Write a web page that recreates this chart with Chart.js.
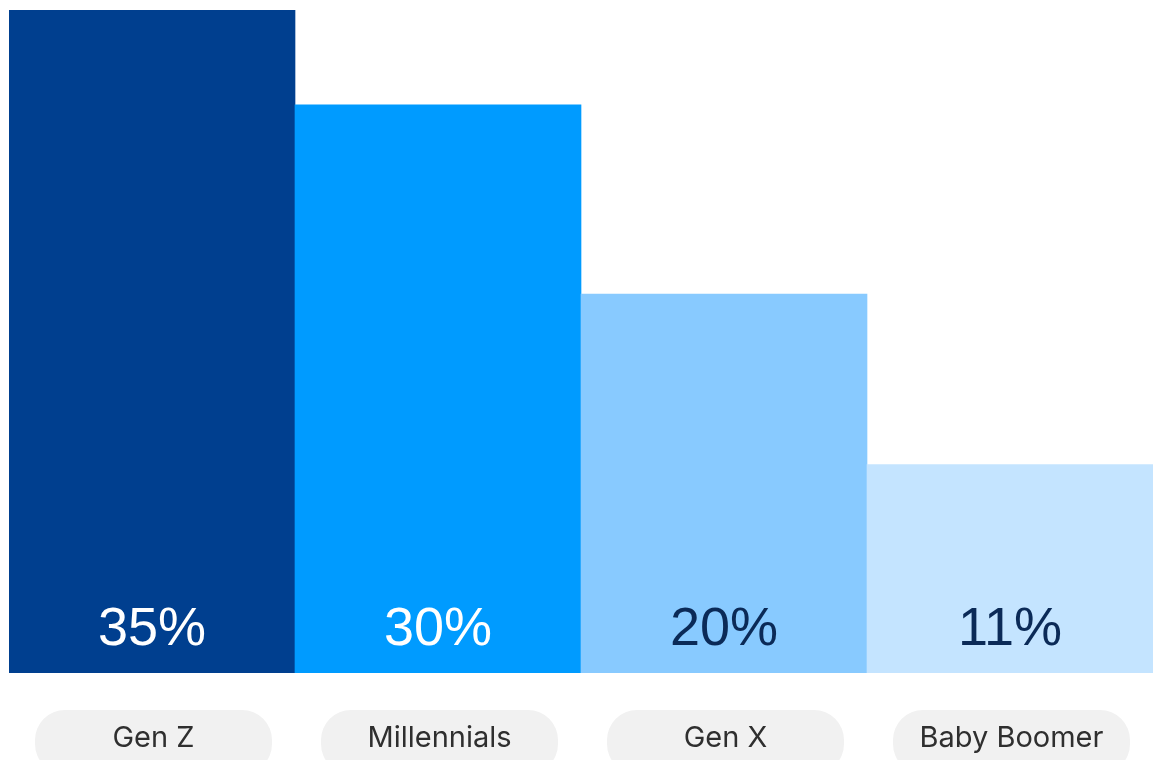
<!DOCTYPE html>
<html>
<head>
<meta charset="utf-8">
<script src="https://cdn.jsdelivr.net/npm/chart.js@4/dist/chart.umd.min.js"></script>
<style>
  html, body { margin: 0; padding: 0; background: #ffffff; }
  #wrap { width: 1160px; height: 760px; position: relative; }
</style>
</head>
<body>
<div id="wrap"><canvas id="c" width="1160" height="760"></canvas></div>
<script>
// Share of respondents by generation (%)
const generations = ['Gen Z', 'Millennials', 'Gen X', 'Baby Boomer'];
const shares = [35, 30, 20, 11];
const barColors = ['#003f8f', '#009bff', '#88caff', '#c4e4ff'];
const valueColors = ['#ffffff', '#ffffff', '#0b2a57', '#0b2a57'];

const VALUE_FONT = '"Liberation Sans", Arial, sans-serif';
const CHIP_FONT = 'Inter, "Liberation Sans", Arial, sans-serif';

// Draws the value inside each bar and the rounded category chips underneath
const labelPlugin = {
  id: 'generationLabels',
  afterDatasetsDraw(chart) {
    const ctx = chart.ctx;
    const meta = chart.getDatasetMeta(0);
    const yScale = chart.scales.y;
    const base = yScale.getPixelForValue(0);
    ctx.save();
    ctx.textAlign = 'center';
    ctx.textBaseline = 'middle';
    meta.data.forEach((bar, i) => {
      // value label
      ctx.fillStyle = valueColors[i];
      ctx.font = '54px ' + VALUE_FONT;
      ctx.fillText(shares[i] + '%', bar.x, base - 43);

      // category chip
      const w = 237, h = 64, r = 30;
      const cx = bar.x + 1.5;
      const top = base + 37;
      ctx.fillStyle = '#f1f1f1';
      ctx.beginPath();
      ctx.roundRect(cx - w / 2, top, w, h, r);
      ctx.fill();

      ctx.fillStyle = '#2f2f2f';
      ctx.font = '29px ' + CHIP_FONT;
      ctx.fillText(generations[i], cx, top + 28);
    });
    ctx.restore();
  }
};

new Chart(document.getElementById('c'), {
  type: 'bar',
  data: {
    labels: generations,
    datasets: [{
      data: shares,
      backgroundColor: barColors,
      borderWidth: 0,
      barPercentage: 1.0,
      categoryPercentage: 1.0
    }]
  },
  options: {
    responsive: false,
    animation: false,
    layout: { padding: { left: 9, right: 7, top: 10, bottom: 87 } },
    plugins: {
      legend: { display: false },
      tooltip: { enabled: false }
    },
    scales: {
      x: { display: false },
      y: { display: false, min: 0, max: 35 }
    }
  },
  plugins: [labelPlugin]
});
</script>
</body>
</html>
